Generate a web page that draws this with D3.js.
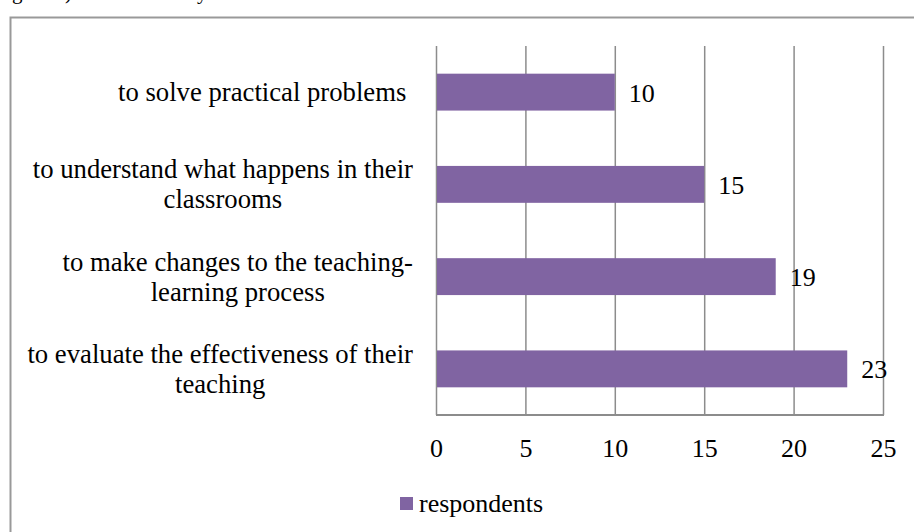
<!DOCTYPE html>
<html>
<head>
<meta charset="utf-8">
<script src="https://cdn.jsdelivr.net/npm/d3@7"></script>
<style>
    html, body { margin: 0; padding: 0; background: #fff; }
    svg { display: block; }
</style>
</head>
<body>
<svg id="chart"></svg>
<script>
const categories = [
    ['to solve practical problems '],
    ['to understand what happens in their', 'classrooms'],
    ['to make changes to the teaching-', 'learning process'],
    ['to evaluate the effectiveness of their', 'teaching'],
];
const respondents = [10, 15, 19, 23];
const xTicks = [0, 5, 10, 15, 20, 25];
const seriesName = 'respondents';

const width = 914;
const height = 532;
const barColor = '#8064a2';
const gridColor = '#8c8c8c';
const fontSize = 26;
const labelFontSize = 26.7;

const svg = d3.select('#chart')
    .attr('width', width)
    .attr('height', height)
    .attr('font-family', 'Liberation Serif, Times New Roman, serif');

// bottom of the caption line above the chart, cut off by the page edge
svg.append('text')
    .attr('x', 12)
    .attr('y', -1)
    .attr('font-size', 21)
    .style('white-space', 'pre')
    .text('gure 1) Teachers\u2019 study');

// outer chart frame, it runs off the right and bottom edge
svg.append('rect')
    .attr('x', 10.5)
    .attr('y', 17.5)
    .attr('width', width)
    .attr('height', height)
    .attr('fill', 'none')
    .attr('stroke', '#999')
    .attr('stroke-width', 2);

const plot = { left: 436, right: 883, top: 46, bottom: 415 };

const x = d3.scaleLinear()
    .domain([0, 25])
    .range([plot.left, plot.right]);

const y = d3.scaleBand()
    .domain(d3.range(categories.length))
    .range([plot.top, plot.bottom])
    .paddingInner(0.6)
    .paddingOuter(0.3);

// vertical gridlines
svg.append('g')
    .selectAll('line')
    .data(xTicks)
    .join('line')
    .attr('x1', (d) => x(d) + 0.5)
    .attr('x2', (d) => x(d) + 0.5)
    .attr('y1', plot.top)
    .attr('y2', plot.bottom)
    .attr('stroke', gridColor)
    .attr('stroke-width', 1.5);

// bottom axis line
svg.append('line')
    .attr('x1', plot.left)
    .attr('x2', plot.right + 1)
    .attr('y1', plot.bottom)
    .attr('y2', plot.bottom)
    .attr('stroke', gridColor)
    .attr('stroke-width', 2);

svg.append('g')
    .selectAll('rect')
    .data(respondents)
    .join('rect')
    .attr('x', x(0) + 1)
    .attr('y', (d, i) => y(i))
    .attr('width', (d) => x(d) - x(0) - 1)
    .attr('height', y.bandwidth())
    .attr('fill', barColor);

// value labels
svg.append('g')
    .selectAll('text')
    .data(respondents)
    .join('text')
    .attr('x', (d) => x(d) + 14)
    .attr('y', (d, i) => y(i) + y.bandwidth() / 2 + 9.5)
    .attr('font-size', fontSize)
    .attr('fill', '#000')
    .text((d) => d);

// tick labels
svg.append('g')
    .selectAll('text')
    .data(xTicks)
    .join('text')
    .attr('x', (d) => x(d) + 0.5)
    .attr('y', 457)
    .attr('text-anchor', 'middle')
    .attr('font-size', fontSize)
    .text((d) => d);

// category labels: block right aligned, lines centered in it
const labelRight = 413;
const lineHeight = 30;
const labelGroups = svg.append('g')
    .selectAll('g')
    .data(categories)
    .join('g');

labelGroups.each(function (lines, i) {
    const g = d3.select(this);
    const cy = y(i) + y.bandwidth() / 2 + 9;
    const texts = g.selectAll('text')
        .data(lines)
        .join('text')
        .attr('font-size', labelFontSize)
        .style('white-space', 'pre')
        .attr('y', (d, j) => cy + (j - (lines.length - 1) / 2) * lineHeight)
        .text((d) => d);
    const blockWidth = d3.max(texts.nodes(), (n) => n.getComputedTextLength());
    texts.attr('x', labelRight - blockWidth / 2)
        .attr('text-anchor', 'middle');
});

// legend
const legend = svg.append('g')
    .attr('transform', 'translate(400,497)');
legend.append('rect')
    .attr('width', 13)
    .attr('height', 13)
    .attr('fill', barColor);
legend.append('text')
    .attr('x', 19)
    .attr('y', 14.5)
    .attr('font-size', fontSize)
    .text(seriesName);
</script>
</body>
</html>
